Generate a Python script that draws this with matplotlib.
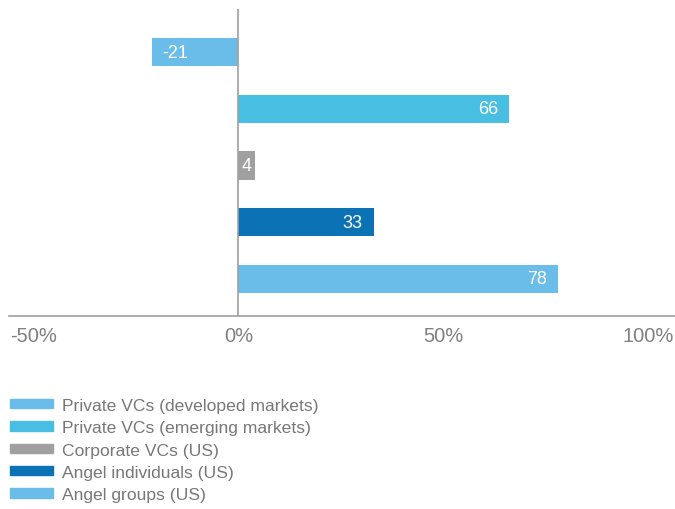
import matplotlib.pyplot as plt
from matplotlib.patches import Patch

plt.rcParams['font.family'] = ['Liberation Sans', 'DejaVu Sans']

categories = ['Private VCs (developed markets)', 'Private VCs (emerging markets)',
              'Corporate VCs (US)', 'Angel individuals (US)', 'Angel groups (US)']
values = [-21, 66, 4, 33, 78]
colors = ['#6abde9', '#48bee2', '#a0a0a0', '#0a72b5', '#6abde9']
xticks = [-50, 0, 50, 100]
xtick_labels = ['-50%', '0%', '50%', '100%']

fig = plt.figure(figsize=(6.75, 5.1), dpi=100)
ax = fig.add_axes([0.0133, 0.378, 0.9867, 0.602])

pos = list(range(len(values)))
ax.barh(pos, values, height=0.5, color=colors)
ax.set_ylim(4.66, -0.76)
ax.set_xlim(-56, 106.5)

for p, v in zip(pos, values):
    if abs(v) < 8:
        ax.annotate(str(v), (v / 2, p), ha='center', va='center',
                    color='white', fontsize=13)
    elif v < 0:
        ax.annotate(str(v), (v, p), xytext=(7, 0), textcoords='offset points',
                    ha='left', va='center', color='white', fontsize=13)
    else:
        ax.annotate(str(v), (v, p), xytext=(-8, 0), textcoords='offset points',
                    ha='right', va='center', color='white', fontsize=13)

ax.axvline(0, color='#a0a0a0', linewidth=1.2)
for s in ['top', 'right', 'left']:
    ax.spines[s].set_visible(False)
ax.spines['bottom'].set_color('#a0a0a0')
ax.spines['bottom'].set_linewidth(1.2)
ax.set_yticks([])
ax.set_xticks(xticks)
ax.set_xticklabels(xtick_labels)
ax.tick_params(axis='x', length=0, pad=7, labelsize=14.5, labelcolor='#808080')

handles = [Patch(color=c, label=l) for c, l in zip(colors, categories)]
fig.legend(handles=handles, loc='upper left', bbox_to_anchor=(0.0148, 0.218),
           frameon=False, fontsize=12.6, labelcolor='#777777',
           handlelength=2.45, handleheight=0.46, handletextpad=0.5,
           labelspacing=0.42, borderpad=0, borderaxespad=0)

fig.savefig('out.png', dpi=100)
